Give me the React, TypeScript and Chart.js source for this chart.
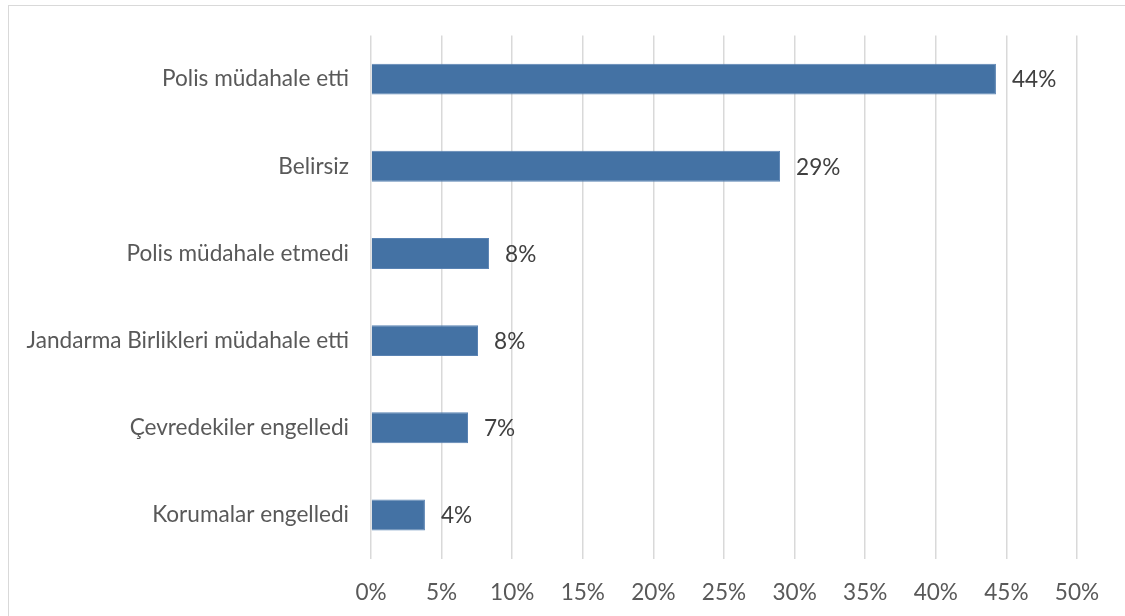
import React, { useEffect, useRef } from "react";
import { Chart, registerables } from "chart.js";

Chart.register(...registerables);

const categories = [
  "Polis müdahale etti",
  "Belirsiz",
  "Polis müdahale etmedi",
  "Jandarma Birlikleri müdahale etti",
  "Çevredekiler engelledi",
  "Korumalar engelledi",
];
const values = [44.26, 28.97, 8.36, 7.58, 6.87, 3.82];
const xMin = 0;
const xMax = 50;
const xStep = 5;

const FONT = "Lato, 'Open Sans', sans-serif";
const SIZE = 22.6;

const dataLabelPlugin = {
  id: "dataLabels",
  afterDatasetsDraw(chart: any) {
    const ctx = chart.ctx;
    const meta = chart.getDatasetMeta(0);
    ctx.save();
    ctx.font = `${SIZE}px ${FONT}`;
    ctx.fillStyle = "#404040";
    ctx.textAlign = "left";
    ctx.textBaseline = "middle";
    meta.data.forEach((el: any, i: number) => {
      const v = chart.data.datasets[0].data[i] as number;
      ctx.fillText(`${Math.round(v)}%`, el.x + 16, el.y + 1);
    });
    ctx.restore();
  },
};

export default function App() {
  const ref = useRef<HTMLCanvasElement | null>(null);
  useEffect(() => {
    if (!ref.current) return;
    const chart = new Chart(ref.current, {
      type: "bar",
      data: {
        labels: categories,
        datasets: [
          {
            data: values,
            backgroundColor: "#4472a4",
            borderColor: "#5a83b3",
            borderWidth: 1,
            barPercentage: 1,
            categoryPercentage: 0.355,
          },
        ],
      },
      options: {
        indexAxis: "y",
        responsive: false,
        animation: false,
        layout: { padding: { left: 0, right: 48, top: 34.5, bottom: 0 } },
        plugins: {
          legend: { display: false },
          tooltip: { enabled: false },
        },
        scales: {
          x: {
            min: xMin,
            max: xMax,
            ticks: {
              stepSize: xStep,
              color: "#595959",
              font: { family: FONT, size: SIZE },
              padding: 21,
              callback: (v: any) => `${v}%`,
            },
            grid: { color: "#d9d9d9", lineWidth: 1.5, drawTicks: false },
            border: { display: false },
            afterFit: (s: any) => {
              s.height = 616 - 558.5;
            },
          },
          y: {
            ticks: {
              color: "#595959",
              font: { family: FONT, size: SIZE },
              padding: 22,
            },
            grid: { display: false, drawTicks: false },
            border: { display: false },
            afterFit: (s: any) => {
              s.width = 371;
            },
          },
        },
      },
      plugins: [dataLabelPlugin],
    });
    return () => chart.destroy();
  }, []);
  return (
    <div style={{ position: "fixed", left: 0, top: 0, width: 1125, height: 616, background: "#fff" }}>
      <div
        style={{
          position: "absolute",
          left: 8,
          top: 5,
          width: 1200,
          height: 700,
          border: "1.5px solid #d9d9d9",
          boxSizing: "border-box",
        }}
      />
      <canvas ref={ref} width={1125} height={616} style={{ position: "absolute", left: 0, top: 0 }} />
    </div>
  );
}
